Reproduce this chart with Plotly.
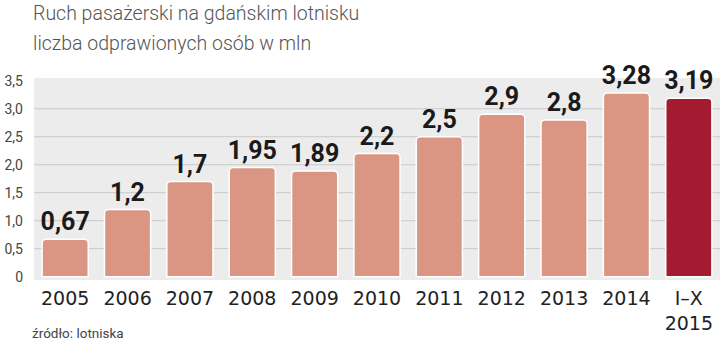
import plotly.graph_objects as go

categories = ["2005", "2006", "2007", "2008", "2009", "2010", "2011", "2012", "2013", "2014", "I–X<br>2015"]
values = [0.67, 1.2, 1.7, 1.95, 1.89, 2.2, 2.5, 2.9, 2.8, 3.28, 3.19]
y_ticks = [0, 0.5, 1.0, 1.5, 2.0, 2.5, 3.0, 3.5]
y_ticktext = ["0", "0,5", "1,0", "1,5", "2,0", "2,5", "3,0", "3,5"]
grid_vals = [0.5, 1.0, 1.5, 2.0, 2.5, 3.0]

colors = ["#DA9683"] * (len(values) - 1) + ["#A41B31"]
labels = [f"{v:g}".replace(".", ",") for v in values]

fig = go.Figure()
fig.add_trace(go.Bar(
    x=list(range(len(categories))), y=values,
    marker=dict(color=colors, line=dict(color="#FFFFFF", width=1.5), cornerradius=4),
    width=0.74,
    text=labels, textposition="outside", cliponaxis=False, constraintext="none",
    textfont=dict(family="Roboto, Arial", size=25, color="#1A1A1A", weight="bold"),
    hoverinfo="skip",
))

for g in grid_vals:
    fig.add_shape(type="line", xref="paper", yref="y", x0=0, x1=1, y0=g, y1=g,
                  line=dict(color="#C9C9C9", width=1), layer="below")

fig.update_layout(
    width=721, height=343,
    margin=dict(l=34, r=1, t=78, b=63),
    paper_bgcolor="#FFFFFF", plot_bgcolor="#ECECEC",
    showlegend=False,
    font=dict(family="Roboto, Liberation Sans, Arial"),
    xaxis=dict(tickmode="array", tickvals=list(range(len(categories))), ticktext=categories,
               range=[-0.5, 10.5], showgrid=False, zeroline=False, showline=False, ticks="",
               tickfont=dict(size=19, color="#222222", family="DejaVu Sans, Arial"),
               ticklabelstandoff=5),
    yaxis=dict(range=[-0.06, 3.55], tickmode="array", tickvals=y_ticks, ticktext=y_ticktext,
               showgrid=False, zeroline=False, showline=False, ticks="",
               tickfont=dict(size=14, color="#444444", family="Roboto, Liberation Sans, Arial"),
               ticklabelstandoff=10),
    annotations=[
        dict(text="Ruch pasażerski na gdańskim lotnisku", xref="paper", yref="paper", x=0, y=1,
             xshift=-3, yshift=51, xanchor="left", yanchor="bottom", showarrow=False,
             font=dict(size=19.5, color="#555555", family="Roboto, Liberation Sans, Arial", weight=300)),
        dict(text="liczba odprawionych osób w mln", xref="paper", yref="paper", x=0, y=1,
             xshift=-3, yshift=21, xanchor="left", yanchor="bottom", showarrow=False,
             font=dict(size=19.5, color="#555555", family="Roboto, Liberation Sans, Arial", weight=300)),
        dict(text="źródło: lotniska", xref="paper", yref="paper", x=0, y=0,
             xshift=-4, yshift=-63, xanchor="left", yanchor="bottom", showarrow=False,
             font=dict(size=13.5, color="#444444", family="Roboto, Liberation Sans, Arial")),
    ],
)

fig.write_html("out.html")
